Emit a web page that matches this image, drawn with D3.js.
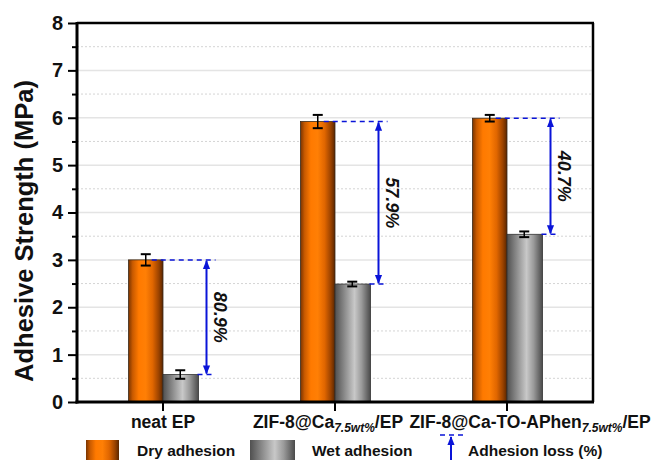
<!DOCTYPE html>
<html><head><meta charset="utf-8">
<script src="https://cdn.jsdelivr.net/npm/d3@7"></script>
<style>body{margin:0;background:#fff}svg{display:block;font-family:Arial,"Liberation Sans",sans-serif}</style>
</head><body><svg id="c" width="657" height="460"></svg>
<script>
const categories = ["neat EP", "ZIF-8@Ca", "ZIF-8@Ca-TO-APhen"];
const subscripts = ["", "7.5wt%", "7.5wt%"];
const suffixes = ["", "/EP", "/EP"];
const dryValues = [3.0, 5.92, 5.99];
const dryErrors = [0.12, 0.14, 0.07];
const wetValues = [0.58, 2.49, 3.54];
const wetErrors = [0.09, 0.05, 0.06];
const lossLabels = ["80.9%", "57.9%", "40.7%"];
const yTicks = [0,1,2,3,4,5,6,7,8];
const legendLabels = ["Dry adhesion", "Wet adhesion", "Adhesion loss (%)"];

const svg = d3.select("#c");
const L = 77, R = 593, T = 23, B = 402;
const x = d3.scaleBand().domain(d3.range(categories.length)).range([L, R]).padding(0);
const y = d3.scaleLinear().domain([0, 8]).range([B, T]);
const cx = i => x(i) + x.bandwidth()/2;
const bw = 34.5;

const defs = svg.append("defs");
function grad(id, stops){
  const g = defs.append("linearGradient").attr("id", id).attr("x1","0").attr("x2","1").attr("y1","0").attr("y2","0");
  stops.forEach(s => g.append("stop").attr("offset", s[0]).attr("stop-color", s[1]));
}
grad("gOr", [[0,"#7a3400"],[0.12,"#c85a00"],[0.3,"#ff7a00"],[0.5,"#ff7f05"],[0.7,"#e06600"],[0.88,"#9a4200"],[1,"#5a2600"]]);
grad("gGr", [[0,"#505050"],[0.2,"#7c7c7c"],[0.55,"#c8c8c8"],[0.75,"#9a9a9a"],[1,"#4a4a4a"]]);
const mk = defs.append("marker").attr("id","ah").attr("viewBox","0 0 10 10").attr("refX",9).attr("refY",5)
  .attr("markerWidth",5).attr("markerHeight",5).attr("orient","auto-start-reverse").attr("markerUnits","userSpaceOnUse");
mk.append("path").attr("d","M0,1 L10,5 L0,9 Z").attr("fill","#0a14d8");
// use userSpace size
mk.attr("markerWidth",9).attr("markerHeight",9);

// grid
const gridG = svg.append("g");
d3.range(0.5, 8, 0.5).forEach(v => {
  const major = Number.isInteger(v);
  gridG.append("line").attr("x1", L).attr("x2", R).attr("y1", y(v)).attr("y2", y(v))
    .attr("stroke", major ? "#e4e4e4" : "#d4d4d4").attr("stroke-width", major ? 1.5 : 1)
    .attr("stroke-dasharray", major ? null : "2,2");
});

// bars
const barsG = svg.append("g");
categories.forEach((c, i) => {
  barsG.append("rect").attr("x", cx(i) - bw).attr("y", y(dryValues[i])).attr("width", bw).attr("height", y(0) - y(dryValues[i]))
    .attr("fill", "url(#gOr)").attr("stroke", "#3a2a1a").attr("stroke-width", 0.8);
  barsG.append("rect").attr("x", cx(i)).attr("y", y(wetValues[i])).attr("width", bw + 1).attr("height", y(0) - y(wetValues[i]))
    .attr("fill", "url(#gGr)").attr("stroke", "#333").attr("stroke-width", 0.8);
});

// error bars
function ebar(xc, v, e){
  const g = svg.append("g").attr("stroke", "#000");
  g.append("line").attr("x1", xc).attr("x2", xc).attr("y1", y(v+e)).attr("y2", y(v-e)).attr("stroke-width", 1.5);
  [v+e, v-e].forEach(t => g.append("line").attr("x1", xc-5).attr("x2", xc+5).attr("y1", y(t)).attr("y2", y(t)).attr("stroke-width", 2));
}
categories.forEach((c, i) => {
  ebar(cx(i) - bw/2, dryValues[i], dryErrors[i]);
  ebar(cx(i) + bw/2, wetValues[i], wetErrors[i]);
});

// loss arrows
const blue = "#0a14d8";
categories.forEach((c, i) => {
  const ax = cx(i) + bw + 9;
  const yT = y(dryValues[i]), yB = y(wetValues[i]);
  svg.append("line").attr("x1", cx(i) - bw/2 + 6).attr("x2", ax + 9).attr("y1", yT).attr("y2", yT)
    .attr("stroke", blue).attr("stroke-width", 1.5).attr("stroke-dasharray", "5,4");
  svg.append("line").attr("x1", cx(i) + bw).attr("x2", ax + 9).attr("y1", yB).attr("y2", yB)
    .attr("stroke", blue).attr("stroke-width", 1.5).attr("stroke-dasharray", "5,4");
  svg.append("line").attr("x1", ax).attr("x2", ax).attr("y1", yT + 1).attr("y2", yB - 1)
    .attr("stroke", blue).attr("stroke-width", 2).attr("marker-start", "url(#ah)").attr("marker-end", "url(#ah)");
  const my = (yT + yB) / 2;
  svg.append("text").attr("transform", `translate(${ax + 7},${my}) rotate(90)`)
    .attr("text-anchor", "middle").attr("font-size", 18).attr("font-weight", "bold").attr("font-style", "italic")
    .attr("fill", "#111").text(lossLabels[i]);
});

// axes frame
svg.append("line").attr("x1", L).attr("x2", R + 1).attr("y1", T).attr("y2", T).attr("stroke", "#000").attr("stroke-width", 2.5);
svg.append("line").attr("x1", R).attr("x2", R).attr("y1", T).attr("y2", B).attr("stroke", "#000").attr("stroke-width", 2.5);

const yAxis = svg.append("g").attr("transform", `translate(${L},0)`)
  .call(d3.axisLeft(y).tickValues(yTicks).tickSize(9).tickPadding(5).tickFormat(d3.format("d")));
yAxis.select(".domain").attr("stroke-width", 3).attr("d", `M0,${T-1}V${B+1.5}`);
yAxis.selectAll(".tick line").attr("stroke-width", 2);
yAxis.selectAll(".tick text").attr("font-size", 20).attr("font-weight", "bold").attr("fill", "#111")
  .attr("font-family", "Arial, 'Liberation Sans', sans-serif");
const minor = svg.append("g").attr("transform", `translate(${L},0)`)
  .call(d3.axisLeft(y).tickValues(d3.range(0.5, 8, 1)).tickSize(5).tickFormat(""));
minor.select(".domain").remove();
minor.selectAll(".tick line").attr("stroke-width", 2);

const xAxis = svg.append("g").attr("transform", `translate(0,${B})`)
  .call(d3.axisBottom(x).tickSize(9).tickFormat(""));
xAxis.select(".domain").attr("stroke-width", 3).attr("d", `M${L-1.5},0H${R+1}`);
xAxis.selectAll(".tick line").attr("stroke-width", 2);

// category labels
const labelNudge = [0, -7, 23];
categories.forEach((c, i) => {
  const t = svg.append("text").attr("x", cx(i) + labelNudge[i]).attr("y", 428).attr("text-anchor", "middle")
    .attr("font-size", 17.5).attr("font-weight", "bold").attr("fill", "#111").text(c);
  if (subscripts[i]) {
    t.append("tspan").attr("font-size", 12).attr("font-style", "italic").attr("dy", 4).text(subscripts[i]);
    t.append("tspan").attr("dy", -4).text(suffixes[i]);
  }
});

// y title
svg.append("text").attr("transform", `translate(33,231) rotate(-90)`).attr("text-anchor", "middle")
  .attr("font-size", 25.5).attr("font-weight", "bold").attr("fill", "#111").text("Adhesive Strength (MPa)");

// legend
const lg = svg.append("g");
lg.append("rect").attr("x", 86).attr("y", 440).attr("width", 33).attr("height", 22).attr("fill", "url(#gOr)");
lg.append("text").attr("x", 137).attr("y", 456).attr("font-size", 15.5).attr("font-weight", "bold").attr("fill", "#111").text(legendLabels[0]);
lg.append("rect").attr("x", 250).attr("y", 440).attr("width", 45).attr("height", 22).attr("fill", "url(#gGr)");
lg.append("text").attr("x", 312).attr("y", 456).attr("font-size", 15.5).attr("font-weight", "bold").attr("fill", "#111").text(legendLabels[1]);
lg.append("line").attr("x1", 440).attr("x2", 463).attr("y1", 435).attr("y2", 435).attr("stroke", blue).attr("stroke-width", 1.5).attr("stroke-dasharray", "5,4");
lg.append("line").attr("x1", 451).attr("x2", 451).attr("y1", 437).attr("y2", 475).attr("stroke", blue).attr("stroke-width", 2)
  .attr("marker-start", "url(#ah)").attr("marker-end", "url(#ah)");
lg.append("text").attr("x", 468).attr("y", 456).attr("font-size", 15.5).attr("font-weight", "bold").attr("fill", "#111").text(legendLabels[2]);
</script></body></html>
